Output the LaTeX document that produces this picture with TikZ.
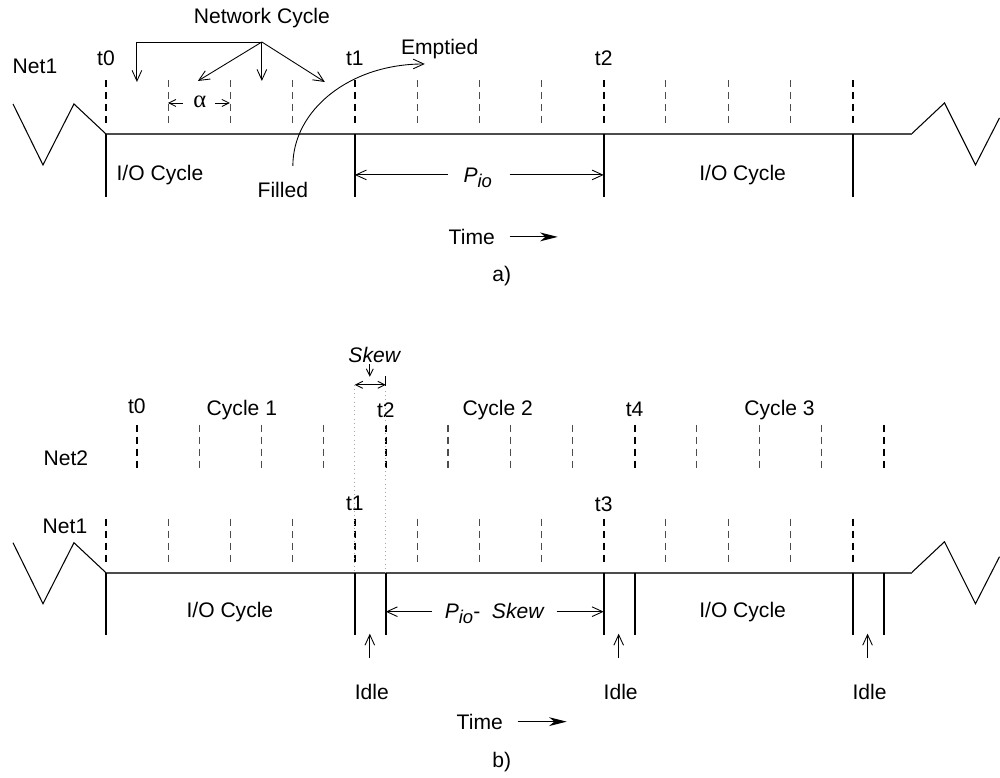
\documentclass[tikz,border=0pt]{standalone}
\usepackage{fontspec}
\setmainfont{Liberation Sans}
\newfontfamily\greekfont{Liberation Serif}
\usetikzlibrary{arrows.meta}

\newcommand{\pio}{\textit{P}\raisebox{-0.45ex}{\fontsize{10.5}{12}\selectfont\textit{io}}}

\begin{document}
\begin{tikzpicture}[
    x=0.02cm, y=-0.02cm, % one unit is one pixel of the drawing, y downwards
    font=\fontsize{12}{14}\selectfont,
    baseline/.style={black!70, line width=1.1pt}, % Net1 time line
    wall/.style={line width=1.1pt}, % I/O cycle boundaries
    zigzag/.style={line width=0.6pt},
    tickmain/.style={line width=1.1pt, dash pattern=on 4pt off 2.8pt}, % I/O cycle start
    ticksub/.style={black!70, line width=0.6pt, dash pattern=on 4pt off 2.8pt}, % network cycle
    guide/.style={black!35, line width=0.4pt, dotted},
    barb/.style={-{Straight Barb[length=6pt,width=5.5pt]}, line width=0.5pt},
    smallbarb/.style={-{Straight Barb[length=4pt,width=4pt]}, line width=0.5pt},
    dimbarb/.style={{Straight Barb[length=4pt,width=4pt]}-{Straight Barb[length=4pt,width=4pt]}, line width=0.5pt},
    timearrow/.style={-{Stealth[length=10pt,width=5pt,inset=3pt]}, line width=0.6pt}
]

    % Net1 rows of a) and b): breaks, time line and cycle ticks
    \foreach \yb in {134,573} {
        \draw[zigzag] (13,\yb-30) -- (43,\yb+31) -- (74,\yb-30) -- (106,\yb);
        \draw[zigzag] (912,\yb) -- (945,\yb-31) -- (976,\yb+31) -- (1000,\yb-16);
        \draw[baseline] (106,\yb) -- (912,\yb);
        \foreach \k in {0,...,12} {
            \pgfmathsetmacro\xt{106+62.25*\k}
            \pgfmathtruncatemacro\rem{mod(\k,4)}
            \ifnum\rem=0
                \draw[tickmain] (\xt,\yb-54) -- (\xt,\yb-7);
            \else
                \draw[ticksub] (\xt,\yb-54) -- (\xt,\yb-7);
            \fi
        }
    }

    % Net2 row of b), shifted by the skew
    \foreach \k in {0,...,12} {
        \pgfmathsetmacro\xt{137+62.25*\k}
        \pgfmathtruncatemacro\rem{mod(\k,4)}
        \ifnum\rem=0
            \draw[tickmain] (\xt,425) -- (\xt,470);
        \else
            \draw[ticksub] (\xt,425) -- (\xt,470);
        \fi
    }

    % ---------------- a) ----------------
    \foreach \x in {106,355,604,853} {
        \draw[wall] (\x,134) -- (\x,197);
    }

    \node (net1a) at (35,66) {Net1};
    \foreach \x/\t in {106/t0, 355/t1, 604/t2} {
        \node (\t a) at (\x,58) {\t};
    }

    % Network cycle pointers
    \node (netcycle) at (262,18) {Network Cycle};
    \coordinate (apex) at (262,42);
    \draw[barb] (apex) -- (137,42) -- (137,82);
    \draw[barb] (apex) -- (198,81);
    \draw[barb] (apex) -- (262,81);
    \draw[barb] (apex) -- (325,82);

    % alpha = one network cycle
    \node (alpha) at (200,102) {\greekfont\fontsize{14}{15}\selectfont α};
    \draw[smallbarb] (183,103) -- (168,103);
    \draw[smallbarb] (215,103) -- (230,103);

    % Buffer filled, then emptied
    \node (filled) at (283,190) {Filled};
    \node (emptied) at (440,49) {Emptied};
    \coordinate (fillstart) at (293,166);
    \coordinate (emptyend) at (425,64);
    \draw[barb] (fillstart) .. controls (293,110) and (350,64) .. (emptyend);

    \node (ioa1) at (160,175) {I/O Cycle};
    \node (ioa2) at (743,175) {I/O Cycle};

    % Period of the I/O cycle
    \node (pio) at (478,178) {\pio};
    \draw[barb] (448,175) -- (355,175);
    \draw[barb] (510,175) -- (604,175);

    \node (timea) at (472,237) {Time};
    \draw[timearrow] (510,237) -- (558,237);
    \node (capa) at (502,276) {a)};

    % ---------------- b) ----------------
    \foreach \x in {106,355,386,604,635,853,884} {
        \draw[wall] (\x,573) -- (\x,635);
    }

    \node (net2) at (66,458) {Net2};
    \node (net1b) at (65,527) {Net1};
    \node (t0b) at (137,406) {t0};
    \node (t2b) at (386,410) {t2};
    \node (t4b) at (635,410) {t4};
    \node (t1b) at (355,504) {t1};
    \node (t3b) at (604,504) {t3};
    \node (cycle1) at (242,410) {Cycle 1};
    \node (cycle2) at (498,410) {Cycle 2};
    \node (cycle3) at (780,410) {Cycle 3};

    % Skew between the two networks
    \node (skew) at (375,355) {\textit{Skew}};
    \draw[smallbarb] (370,364) -- (370,377);
    \draw[dimbarb] (355,385) -- (386,385);
    \draw[line width=0.5pt] (386,376) -- (386,386);
    \draw[guide] (355,385) -- (355,573);
    \draw[guide] (386,391) -- (386,573);

    \node (iob1) at (230,612) {I/O Cycle};
    \node (iob2) at (743,612) {I/O Cycle};

    \node (pioskew) at (495,614) {\pio-\ \ \textit{Skew}};
    \draw[barb] (432,612) -- (386,612);
    \draw[barb] (557,612) -- (604,612);

    % Idle gaps between I/O cycles
    \foreach \x/\n in {370/1, 619/2, 868/3} {
        \node (idle\n) at (\x+2,692) {Idle};
        \draw[barb] (\x,658) -- (\x,634);
    }

    \node (timeb) at (480,722) {Time};
    \draw[timearrow] (518,722) -- (567,722);
    \node (capb) at (502,762) {b)};

    \useasboundingbox (0,0) rectangle (1000,776);
\end{tikzpicture}
\end{document}
